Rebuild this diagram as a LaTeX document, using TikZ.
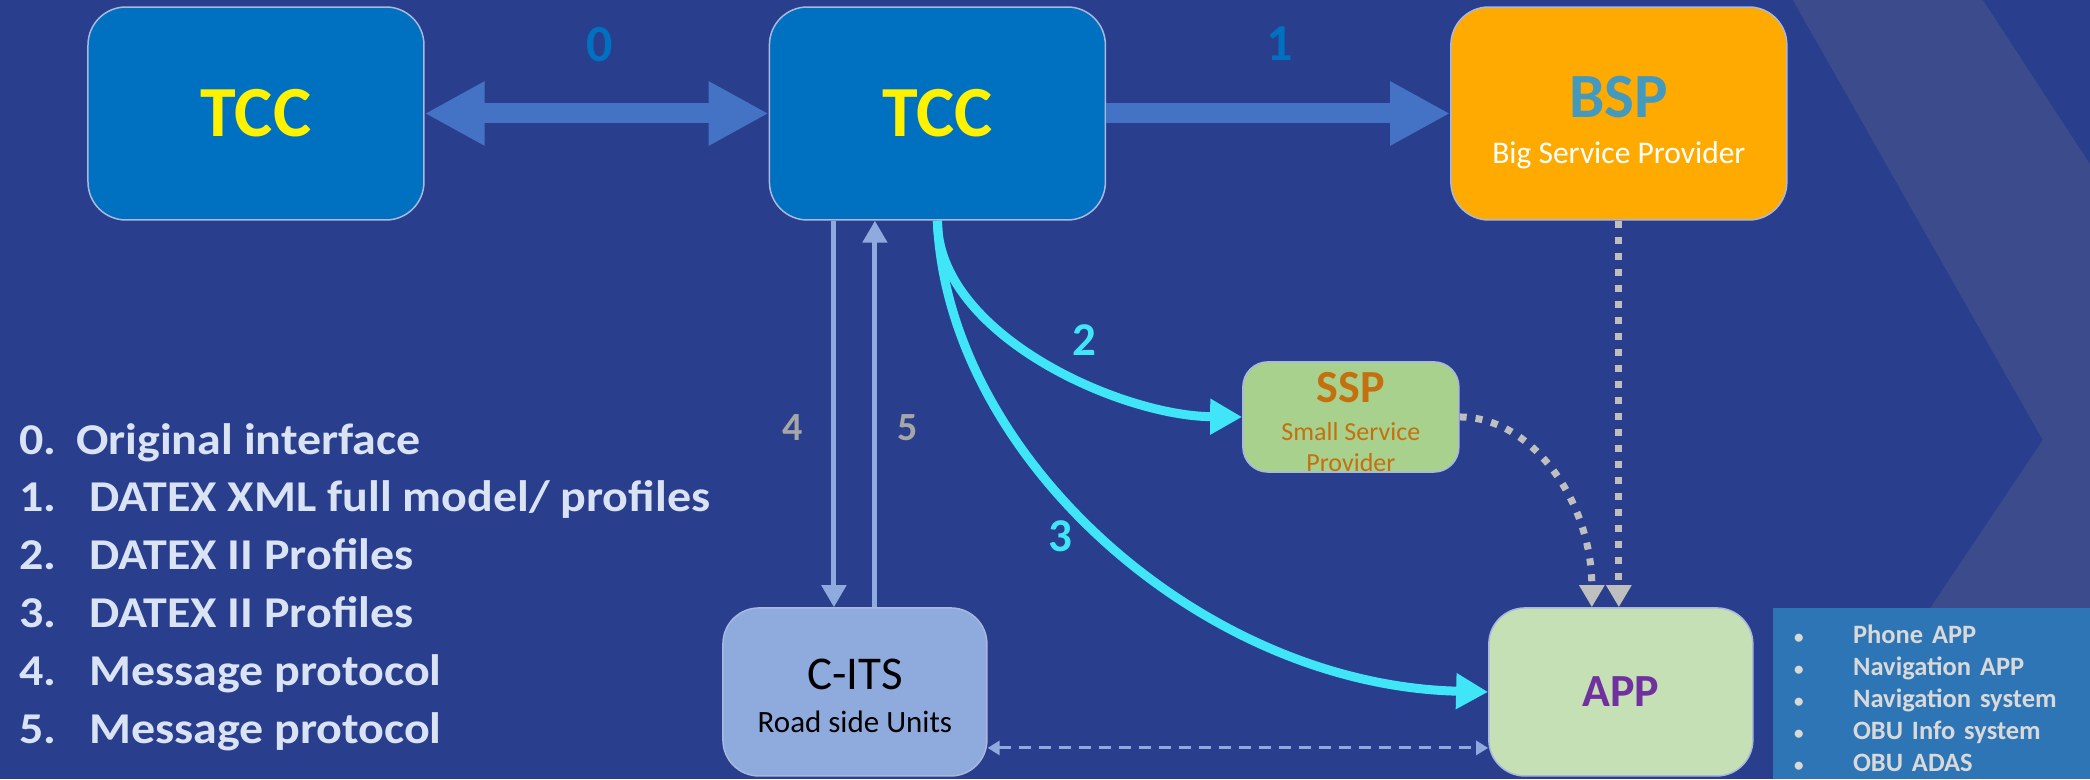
\documentclass[tikz,border=0pt]{standalone}
\usepackage{fontspec}
\setmainfont{Carlito}
\newfontfamily\widefont{Carlito}[FakeStretch=1.09]
\usetikzlibrary{arrows.meta,positioning}

\definecolor{bgblue}{HTML}{293F8D}
\definecolor{bandblue}{HTML}{3C4B8C}
\definecolor{tccblue}{HTML}{0070C0}
\definecolor{arrowblue}{HTML}{4472C4}
\definecolor{bsporange}{HTML}{FFAA00}
\definecolor{bsptext}{HTML}{4399BE}
\definecolor{sspgreen}{HTML}{A9D18E}
\definecolor{ssptext}{HTML}{C5700E}
\definecolor{appgreen}{HTML}{C5E0B4}
\definecolor{apppurple}{HTML}{7030A0}
\definecolor{citsblue}{HTML}{8FAADC}
\definecolor{cyanline}{HTML}{40E6F8}
\definecolor{dotgray}{HTML}{BFBFBF}
\definecolor{numgray}{HTML}{A6A6A6}
\definecolor{listtext}{HTML}{DAE3F3}
\definecolor{listbox}{HTML}{2E75B6}
\definecolor{itemtext}{HTML}{D9D9D9}
\definecolor{boxline}{HTML}{A9B8DE}

\newcommand{\setfs}[2]{\fontsize{#1}{#2}\selectfont}
\newcommand{\itembullet}{\makebox[59pt][l]{\setfs{19}{32}\textbullet}}

\begin{document}
\begin{tikzpicture}[x=1pt, y=-1pt, node distance=344pt,
    box/.style={draw=boxline, line width=1.5pt, rounded corners=38pt, inner sep=0pt, align=center},
    bigbox/.style={box, minimum width=336pt, minimum height=213pt},
    fatarrow/.style={draw=arrowblue, line width=20pt, -{Triangle[width=60pt, length=60pt]}},
    thinarrow/.style={draw=citsblue, line width=5pt, -{Triangle[width=24pt, length=22pt]}},
    cyanarrow/.style={draw=cyanline, line width=9pt, -{Triangle[width=34pt, length=32pt]}},
    dotarrow/.style={draw=dotgray, line width=7pt, dash pattern=on 7pt off 9pt, -{Triangle[width=24pt, length=22pt]}},
    linkarrow/.style={draw=citsblue, line width=3pt, dash pattern=on 12pt off 8pt, {Triangle[width=14pt, length=12pt]}-{Triangle[width=14pt, length=12pt]}},
    num/.style={inner sep=0pt}]

      % Background
      \fill[bgblue] (0,0) rectangle (2090,779);
      \fill[bandblue] (1793,0) -- (1983,0) -- (2090,164) -- (2090,779) -- (1816,779) -- (2043,440) -- cycle;

      % Define boxes
      \node[bigbox, fill=tccblue, text=yellow, font=\setfs{72}{72}\bfseries] (tccA) at (256,113.5) {TCC};
      \node[bigbox, fill=tccblue, text=yellow, font=\setfs{72}{72}\bfseries, right=of tccA] (tccB) {TCC};
      \node[bigbox, fill=bsporange, text=white, font=\setfs{31.5}{46}, right=of tccB] (bsp)
           {{\setfs{63}{63}\bfseries\color{bsptext}\rule{0pt}{60pt}BSP}\\Big Service Provider};
      \node[box, rounded corners=25pt, fill=sspgreen, text=ssptext, minimum width=216pt, minimum height=108pt,
            font=\setfs{26}{31}] (ssp) at (1351,417)
           {{\setfs{46}{46}\bfseries\rule{0pt}{41pt}SSP}\\[7pt]Small Service\\Provider};
      \node[box, rounded corners=36pt, fill=citsblue, text=black, minimum width=264pt, minimum height=168pt,
            font=\setfs{31}{43}] (cits) at (855,692)
           {{\setfs{47}{47}\rule{0pt}{39pt}C-ITS}\\Road side Units};
      \node[box, rounded corners=36pt, fill=appgreen, text=apppurple, minimum width=264pt, minimum height=168pt,
            font=\setfs{46}{46}\bfseries] (app) at (1621,692) {APP};
      \node[fill=listbox, anchor=north west, minimum width=317pt, minimum height=171pt, inner xsep=21pt, inner ysep=0pt,
            text width=275pt, align=left, text=itemtext, font=\setfs{26.5}{32}\bfseries] (applist) at (1773,608)
           {\rule{0pt}{28pt}\itembullet Phone APP\\
            \itembullet Navigation APP\\
            \itembullet Navigation system\\
            \itembullet OBU Info system\\
            \itembullet OBU ADAS};

      % Legend
      \node[anchor=west, inner sep=0pt, align=left, text=listtext, font=\widefont\setfs{44}{57.8}\bfseries] (legend) at (19,587)
           {\makebox[57pt][l]{0.}Original interface\\
            \makebox[70pt][l]{1.}DATEX XML full model/ profiles\\
            \makebox[70pt][l]{2.}DATEX II Profiles\\
            \makebox[70pt][l]{3.}DATEX II Profiles\\
            \makebox[70pt][l]{4.}Message protocol\\
            \makebox[70pt][l]{5.}Message protocol};

      % Define connections
      \draw[fatarrow, {Triangle[width=60pt, length=60pt]}-{Triangle[width=60pt, length=60pt]}] (tccA) -- (tccB);
      \draw[fatarrow] (tccB) -- (bsp);

      \coordinate (down) at ([xshift=-21pt]cits.north);
      \coordinate (up) at ([xshift=20pt]cits.north);
      \draw[thinarrow] (down |- tccB.south) -- (down);
      \draw[thinarrow] (up) -- (up |- tccB.south);

      \draw[cyanarrow] (tccB.south) .. controls +(0,113) and +(-123,-1) .. (ssp.west);
      \draw[cyanarrow] (tccB.south) .. controls +(9,233) and +(-289,-7) .. (app.west);

      \coordinate (sspin) at ([xshift=-29pt]app.north);
      \draw[dotarrow] (bsp.south) -- (bsp.south |- app.north);
      \draw[dotarrow] (ssp.east) .. controls +(73,0) and +(0,-105) .. (sspin);

      \coordinate (linkA) at ([yshift=-56pt]cits.east);
      \coordinate (linkB) at ([yshift=-56pt]app.west);
      \draw[linkarrow] (linkA) -- (linkB);

      % Connection labels
      \node[num, text=tccblue, font=\setfs{52}{52}\bfseries] (lab0) at (600,45) {0};
      \node[num, text=tccblue, font=\setfs{52}{52}\bfseries] (lab1) at (1280,44) {1};
      \node[num, text=cyanline, font=\setfs{47}{47}\bfseries] (lab2) at (1084,340) {2};
      \node[num, text=cyanline, font=\setfs{47}{47}\bfseries] (lab3) at (1060,536) {3};
      \node[num, text=numgray, font=\setfs{40}{40}\bfseries] (lab4) at (793,428) {4};
      \node[num, text=numgray, font=\setfs{40}{40}\bfseries] (lab5) at (908,428) {5};

\end{tikzpicture}
\end{document}
